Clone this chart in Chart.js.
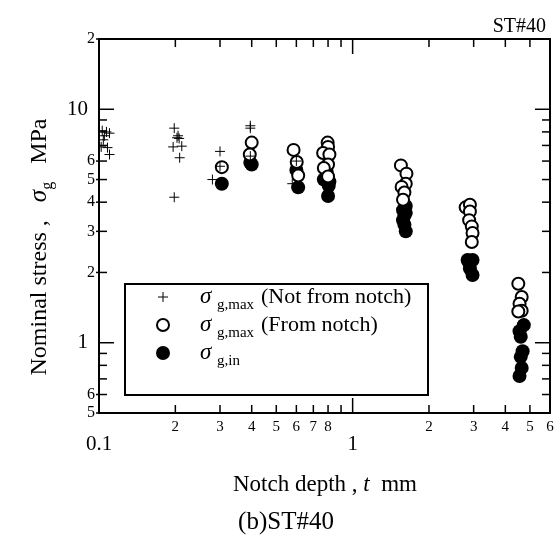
<!DOCTYPE html>
<html><head><meta charset="utf-8">
<style>html,body{margin:0;padding:0;background:#fff}#wrap{width:560px;height:538px}</style>
<script src="https://cdn.jsdelivr.net/npm/chart.js@4/dist/chart.umd.min.js"></script>
</head><body><div id="wrap"><canvas id="c" width="560" height="538"></canvas></div>
<script>
// sigma_g,max (Not from notch)
const plusX = [0.103,0.107,0.110,0.104,0.102,0.108,0.110,0.105, 0.198,0.205,0.207,0.203,0.196,0.212,0.208,0.198, 0.30,0.30,0.28, 0.395,0.395,0.395, 0.60,0.578];
const plusY = [8.1,8.0,7.9,7.4,6.9,6.85,6.4,7.7, 8.3,7.7,7.5,7.55,6.9,6.95,6.2,4.2, 6.6,5.7,5.0, 8.5,8.3,6.3, 6.0,4.8];
// sigma_g,max (From notch)
const openX = [0.305, 0.40,0.393, 0.585,0.602,0.61, 0.797,0.80,0.765,0.81,0.80,0.77,0.80, 1.55,1.63,1.62,1.56,1.60,1.58, 2.79,2.90,2.90,2.88,2.95,2.97,2.95, 4.5,4.64,4.55,4.64,4.5];
const openY = [5.65, 7.2,6.4, 6.7,5.95,5.2, 7.2,6.9,6.5,6.4,5.8,5.6,5.15, 5.75,5.3,4.8,4.65,4.4,4.1, 3.8,3.9,3.65,3.35,3.15,2.95,2.7, 1.79,1.57,1.47,1.37,1.36];
// sigma_g,in
const fillX = [0.305, 0.40,0.395, 0.60,0.61, 0.805,0.80,0.77,0.81,0.79, 1.62,1.62,1.58,1.60,1.62,1.60,1.58, 2.84,2.97,2.88,2.90,2.97, 4.73,4.55,4.6,4.68,4.6,4.64,4.55];
const fillY = [4.8, 5.8,5.9, 5.5,4.63, 4.7,4.25,5.0,4.9,5.4, 3.85,3.6,3.35,3.2,3.0,3.5,3.7, 2.26,2.26,2.2,2.08,1.95, 1.19,1.12,1.06,0.92,0.87,0.78,0.72];

const xTicks = [0.1,0.2,0.3,0.4,0.5,0.6,0.7,0.8,0.9,1,2,3,4,5,6];
const xSmallLabels = {0.2:'2',0.3:'3',0.4:'4',0.5:'5',0.6:'6',0.7:'7',0.8:'8',2:'2',3:'3',4:'4',5:'5',6:'6'};
const xBigLabels = {0.1:'0.1',1:'1'};
const yTicks = [0.5,0.6,0.7,0.8,0.9,1,2,3,4,5,6,7,8,9,10,20];
const ySmallLabels = {0.5:'5',0.6:'6',2:'2',3:'3',4:'4',5:'5',6:'6',20:'2'};
const yBigLabels = {1:'1',10:'10'};
const majorTicks = [1,10];

const pts = (xs, ys) => xs.map((x,i)=>({x, y: ys[i]}));
const SERIF = '"Liberation Serif","Times New Roman",serif';

function drawMarker(ctx, kind, x, y){
  ctx.save();
  if(kind==='plus'){
    ctx.strokeStyle='#000'; ctx.lineWidth=1;
    ctx.beginPath(); ctx.moveTo(x-5,y); ctx.lineTo(x+5,y); ctx.moveTo(x,y-5); ctx.lineTo(x,y+5); ctx.stroke();
  } else if(kind==='open'){
    ctx.strokeStyle='#000'; ctx.lineWidth=2; ctx.fillStyle='#fff';
    ctx.beginPath(); ctx.arc(x,y,6,0,Math.PI*2); ctx.fill(); ctx.stroke();
  } else {
    ctx.fillStyle='#000'; ctx.beginPath(); ctx.arc(x,y,7,0,Math.PI*2); ctx.fill();
  }
  ctx.restore();
}

const deco = {
  id:'deco',
  afterDraw(chart){
    const {ctx, chartArea:a, scales:{x, y}} = chart;
    ctx.save();
    ctx.strokeStyle='#000'; ctx.lineWidth=2;
    ctx.strokeRect(a.left, a.top, a.right-a.left, a.bottom-a.top);
    ctx.lineWidth=1.5;
    const ln=(x1,y1,x2,y2)=>{ctx.beginPath();ctx.moveTo(x1,y1);ctx.lineTo(x2,y2);ctx.stroke();};
    xTicks.forEach(v=>{
      const px=x.getPixelForValue(v);
      const len = majorTicks.includes(v)?15:8;
      ln(px,a.bottom,px,a.bottom-len); ln(px,a.top,px,a.top+len);
    });
    yTicks.forEach(v=>{
      const py=y.getPixelForValue(v);
      const len = majorTicks.includes(v)?15:8;
      ln(a.left,py,a.left+len,py); ln(a.right,py,a.right-len,py);
      if(ySmallLabels[v]) ln(a.left-3,py,a.left,py);
    });
    ctx.fillStyle='#000';
    // x labels
    ctx.textAlign='center'; ctx.textBaseline='middle';
    ctx.font='15px '+SERIF;
    Object.keys(xSmallLabels).forEach(k=>{ ctx.fillText(xSmallLabels[k], x.getPixelForValue(+k), a.bottom+14); });
    ctx.font='21px '+SERIF;
    Object.keys(xBigLabels).forEach(k=>{ ctx.fillText(xBigLabels[k], x.getPixelForValue(+k), a.bottom+31); });
    // y labels
    ctx.textAlign='right';
    ctx.font='16px '+SERIF;
    Object.keys(ySmallLabels).forEach(k=>{ ctx.fillText(ySmallLabels[k], a.left-4, y.getPixelForValue(+k)); });
    ctx.font='21px '+SERIF;
    Object.keys(yBigLabels).forEach(k=>{ ctx.fillText(yBigLabels[k], a.left-11, y.getPixelForValue(+k)); });
    // x title
    ctx.textBaseline='alphabetic'; ctx.textAlign='left';
    const f='23px '+SERIF, fi='italic 23px '+SERIF;
    const parts=[[f,'Notch depth , '],[fi,'t'],[f,'  mm']];
    let w=0; parts.forEach(p=>{ctx.font=p[0]; w+=ctx.measureText(p[1]).width;});
    let cx=325-w/2;
    parts.forEach(p=>{ctx.font=p[0]; ctx.fillText(p[1],cx,491); cx+=ctx.measureText(p[1]).width;});
    // caption
    ctx.font='25px '+SERIF; ctx.textAlign='center';
    ctx.fillText('(b)ST#40', 286, 529);
    ctx.textAlign='right'; ctx.font='20px '+SERIF;
    ctx.fillText('ST#40', 546, 32);
    // y title
    ctx.save();
    ctx.translate(46, 247); ctx.rotate(-Math.PI/2);
    const yp=[['24px '+SERIF,'Nominal stress ,   ',0],['italic 25px '+SERIF,'\u03C3',0],['16px '+SERIF,'g',6],['24px '+SERIF,'   MPa',0]];
    w=0; yp.forEach(p=>{ctx.font=p[0]; w+=ctx.measureText(p[1]).width;});
    cx=-w/2; ctx.textAlign='left';
    yp.forEach(p=>{ctx.font=p[0]; ctx.fillText(p[1],cx,p[2]); cx+=ctx.measureText(p[1]).width;});
    ctx.restore();
    // legend
    ctx.lineWidth=2; ctx.strokeStyle='#000';
    ctx.strokeRect(125,284,303,111);
    const rows=[['plus','g,max','(Not from notch)'],['open','g,max','(From notch)'],['fill','g,in','']];
    rows.forEach((r,i)=>{
      const cy=297+i*28;
      drawMarker(ctx,r[0],163,cy);
      ctx.textAlign='left';
      ctx.font='italic 23px '+SERIF; ctx.fillText('\u03C3',200,cy+6);
      ctx.font='15px '+SERIF; ctx.fillText(r[1],217,cy+12);
      ctx.font='22px '+SERIF; ctx.fillText(r[2],261,cy+6);
    });
    ctx.restore();
  }
};

new Chart(document.getElementById('c'), {
  type:'scatter',
  data:{datasets:[
    {label:'sigma g,max (Not from notch)', data:pts(plusX,plusY), pointStyle:'cross', pointRadius:5, borderColor:'#000', borderWidth:1, backgroundColor:'#000'},
    {label:'sigma g,max (From notch)', data:pts(openX,openY), pointStyle:'circle', pointRadius:6, borderColor:'#000', borderWidth:2, backgroundColor:'#fff'},
    {label:'sigma g,in', data:pts(fillX,fillY), pointStyle:'circle', pointRadius:7, borderColor:'#000', borderWidth:0, backgroundColor:'#000'}
  ]},
  options:{
    responsive:false, animation:false, devicePixelRatio:1,
    layout:{padding:{left:99,right:10,top:39,bottom:125}},
    plugins:{legend:{display:false},tooltip:{enabled:false}},
    scales:{
      x:{type:'logarithmic',min:0.1,max:6,display:false},
      y:{type:'logarithmic',min:0.5,max:20,display:false}
    }
  },
  plugins:[deco]
});
</script></body></html>
